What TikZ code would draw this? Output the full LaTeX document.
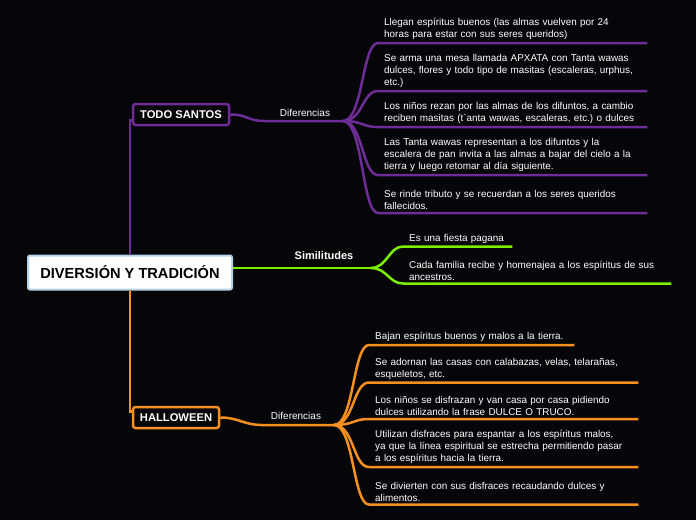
\documentclass[tikz,border=0pt]{standalone}
\usepackage{fontspec}
\setmainfont{Liberation Sans}
\usepackage{tikz}
\usetikzlibrary{positioning, calc}
\definecolor{bgblack}{HTML}{060608}
\definecolor{tspurple}{HTML}{6E2C96}
\definecolor{simgreen}{HTML}{7CF000}
\definecolor{hworange}{HTML}{F7901E}
\definecolor{rootborder}{HTML}{B4D2E8}
\tikzset{
    rootbox/.style={rectangle, draw=rootborder, line width=2pt, rounded corners=2pt, fill=white, minimum width=204pt, minimum height=34pt, font=\fontsize{14.6}{16}\selectfont\bfseries, text=black},
    topicbox/.style={rectangle, draw=#1, line width=2.5pt, rounded corners=2.5pt, fill=bgblack, inner xsep=2pt, minimum height=21pt, font=\fontsize{11.2}{13}\selectfont\bfseries, text=white},
    leaf/.style={rectangle, anchor=south west, inner xsep=6pt, inner ysep=3pt, text width=#1, align=left, font=\fontsize{9.9}{12}\selectfont\frenchspacing, text=white},
    tag/.style={font=\fontsize{10}{12}\selectfont, text=white},
    tsline/.style={draw=tspurple, line width=2.5pt},
    simline/.style={draw=simgreen, line width=2.5pt},
    hwline/.style={draw=hworange, line width=2.5pt}
}
\begin{document}
\begin{tikzpicture}[x=1pt, y=-1pt]
    \fill[bgblack] (0,0) rectangle (696,520);
    \useasboundingbox (0,0) rectangle (696,520);

    % Main topics
    \node (root) [rootbox] at (130,272.5) {DIVERSIÓN Y TRADICIÓN};
    \node (ts) [topicbox=tspurple, minimum width=96pt] at (181,114.5) {TODO SANTOS};
    \node (hw) [topicbox=hworange, minimum width=86pt] at (176,417.5) {HALLOWEEN};

    % Todo Santos
    \coordinate (tsb) at (343,121);
    \node (tsdif) [tag] at (305,113) {Diferencias};
    \node (ts1) [leaf=257pt] at (378,43) {Llegan espíritus buenos (las almas vuelven por 24\\horas para estar con sus seres queridos)};
    \node (ts2) [leaf=257pt] at (378,91) {Se arma una mesa llamada APXATA con Tanta wawas\\dulces, flores y todo tipo de masitas (escaleras, urphus,\\etc.)};
    \node (ts3) [leaf=257pt] at (378,127) {Los niños rezan por las almas de los difuntos, a cambio\\reciben masitas (t\textasciigrave anta wawas, escaleras, etc.) o dulces};
    \node (ts4) [leaf=257pt] at (378,175) {Las Tanta wawas representan a los difuntos y la\\escalera de pan invita a las almas a bajar del cielo a la\\tierra y luego retomar al día siguiente.};
    \node (ts5) [leaf=257pt] at (378,213) {Se rinde tributo y se recuerdan a los seres queridos\\fallecidos.};

    % Similitudes
    \coordinate (simb) at (371,268);
    \node (simtag) [tag, font=\fontsize{11}{13}\selectfont\bfseries] at (324,256) {Similitudes};
    \node (sim1) [leaf=97pt] at (403,246.5) {Es una fiesta pagana};
    \node (sim2) [leaf=256pt] at (403,283.5) {Cada familia recibe y homenajea a los espíritus de sus\\ancestros.};

    % Halloween
    \coordinate (hwb) at (334,425);
    \node (hwdif) [tag] at (296,416) {Diferencias};
    \node (hw1) [leaf=193pt] at (369,345) {Bajan espíritus buenos y malos a la tierra.};
    \node (hw2) [leaf=257pt] at (369,382.5) {Se adornan las casas con calabazas, velas, telarañas,\\esqueletos, etc.};
    \node (hw3) [leaf=257pt] at (369,419) {Los niños se disfrazan y van casa por casa pidiendo\\dulces utilizando la frase DULCE O TRUCO.};
    \node (hw4) [leaf=257pt] at (369,467) {Utilizan disfraces para espantar a los espíritus malos,\\ya que la línea espiritual se estrecha permitiendo pasar\\a los espíritus hacia la tierra.};
    \node (hw5) [leaf=257pt] at (369,504.5) {Se divierten con sus disfraces recaudando dulces y\\alimentos.};

    % Connectors
    \draw [tsline] (root.north) |- ([yshift=-6pt]ts.west);
    \draw [hwline] (root.south) |- ([yshift=6pt]hw.west);
    \draw [simline] (root.east |- simb) -- (simb);
    \draw [tsline] (ts.east) .. controls +(18,0) and +(-18,0) .. (265,121) -- (tsb);
    \draw [hwline] (hw.east) .. controls +(18,0) and +(-18,0) .. (262,425) -- (hwb);
    \foreach \l in {ts1,ts2,ts3,ts4,ts5}
        \draw [tsline] (tsb) .. controls +(20,0) and +(-16,0) .. (\l.south west) -- (\l.south east);
    \foreach \l in {sim1,sim2}
        \draw [simline] (simb) .. controls +(16,0) and +(-14,0) .. (\l.south west) -- (\l.south east);
    \foreach \l in {hw1,hw2,hw3,hw4,hw5}
        \draw [hwline] (hwb) .. controls +(20,0) and +(-16,0) .. (\l.south west) -- (\l.south east);
\end{tikzpicture}
\end{document}
